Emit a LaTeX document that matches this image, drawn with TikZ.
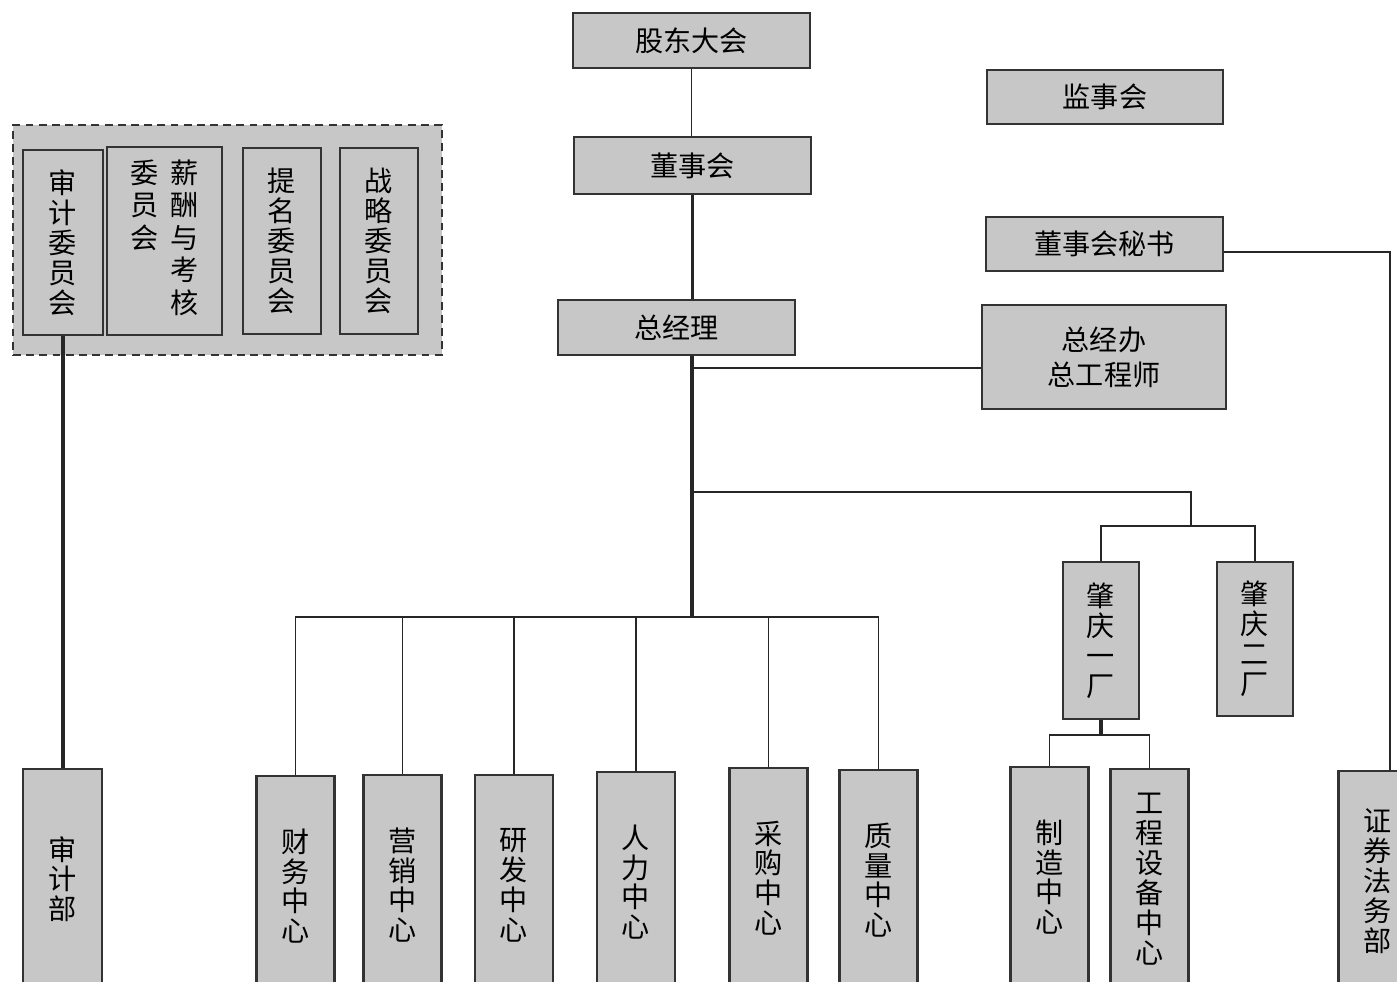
\documentclass[tikz,border=0pt]{standalone}
\usepackage{fontspec}
\newfontfamily\cjk{Noto Sans CJK SC}

\begin{document}
\begin{tikzpicture}[x=0.02cm,y=-0.02cm,
    font=\cjk\fontsize{16}{17}\selectfont,
    caja/.style={draw=black!80, fill=black!22, line width=1.3pt, inner sep=0pt, align=center},
    hcaja/.style={caja, minimum width=4.74cm, minimum height=1.1cm},
    vcaja/.style={caja, anchor=north, minimum width=1.56cm, minimum height=4.4cm},
    linea/.style={line width=1.1pt, black!85},
    gruesa/.style={line width=1.8pt, black!85}]
    \useasboundingbox (0,0) rectangle (1397,982);
    \clip (0,0) rectangle (1397,982);

    % arriba
    \node[hcaja] (gd) at (691.5,40.5) {股东大会};
    \node[hcaja, minimum height=1.14cm] (dsh) at (692.5,165.5) {董事会};
    \node[hcaja, minimum width=4.72cm, minimum height=1.08cm] (jsh) at (1105,97) {监事会};
    \node[hcaja, minimum height=1.08cm] (msh) at (1104.5,244) {董事会秘书};
    \node[hcaja] (zjl) at (676.5,327.5) {总经理};
    \node[hcaja, minimum width=4.88cm, minimum height=2.08cm, font=\cjk\fontsize{16}{20}\selectfont] (zjb) at (1104,357) {总经办\\总工程师};

    % comites
    \node[caja, dash pattern=on 4.5pt off 3pt, minimum width=8.58cm, minimum height=4.6cm] (wyh) at (227.5,240) {};
    \node[caja, minimum width=1.6cm, minimum height=3.7cm] (sjw) at (63,242.5) {审\\计\\委\\员\\会};
    \node[caja, minimum width=2.3cm, minimum height=3.76cm] (xcw) at (164.5,241)
        {\begin{tabular}{@{}c@{\hspace{7pt}}c@{}}委&薪\\员&酬\\会&与\\&考\\&核\end{tabular}};
    \node[caja, minimum width=1.56cm, minimum height=3.72cm] (tmw) at (282,241) {提\\名\\委\\员\\会};
    \node[caja, minimum width=1.56cm, minimum height=3.72cm] (zlw) at (379,241) {战\\略\\委\\员\\会};

    % fabricas
    \node[caja, minimum width=1.52cm, minimum height=3.14cm] (zq1) at (1101,640.5) {肇\\庆\\一\\厂};
    \node[caja, minimum width=1.52cm, minimum height=3.08cm] (zq2) at (1255,639) {肇\\庆\\二\\厂};

    % abajo
    \node[vcaja, minimum width=1.58cm] (sjb) at (62.5,768) {审\\计\\部};
    \node[vcaja] (cw) at (295.5,775) {财\\务\\中\\心};
    \node[vcaja] (yx) at (402.5,774) {营\\销\\中\\心};
    \node[vcaja] (yf) at (514,774) {研\\发\\中\\心};
    \node[vcaja] (rl) at (636,771) {人\\力\\中\\心};
    \node[vcaja] (cg) at (768.5,767) {采\\购\\中\\心};
    \node[vcaja] (zl) at (878.5,769) {质\\量\\中\\心};
    \node[vcaja] (zz) at (1049.5,766) {制\\造\\中\\心};
    \node[vcaja] (gc) at (1149.5,768) {工\\程\\设\\备\\中\\心};
    \node[vcaja] (zqf) at (1377.5,770) {证\\券\\法\\务\\部};

    % lineas
    \coordinate (b1) at (692,617);
    \coordinate (j1) at (692,368);
    \coordinate (j2) at (692,492);
    \coordinate (j3) at (1191,492);
    \coordinate (b2) at (1191,526);
    \coordinate (b3) at (1101,735);
    \coordinate (t1) at (1390,252);

    \draw[line width=0.8pt, black!85] (gd.south) -- (gd.south |- dsh.north);
    \draw[gruesa] (dsh.south) -- (dsh.south |- zjl.north);
    \draw[gruesa] (zjl.south -| b1) -- (b1);
    \draw[linea] (j1) -- (j1 -| zjb.west);
    \draw[linea] (j2) -- (j3) -- (b2);
    \draw[linea] (zq1.north) -- (zq1.north |- b2) -- (zq2.north |- b2) -- (zq2.north);
    \draw[linea] (cw.north) -- (cw.north |- b1) -- (zl.north |- b1) -- (zl.north);
    \foreach \n in {yx,yf,rl,cg}
        \draw[linea] (\n.north) -- (\n.north |- b1);
    \draw[gruesa] (zq1.south) -- (b3);
    \draw[linea] (zz.north) -- (zz.north |- b3) -- (gc.north |- b3) -- (gc.north);
    \draw[gruesa] (sjw.south) -- (sjw.south |- sjb.north);
    \draw[linea] (msh.east |- t1) -- (t1) -- (t1 |- zqf.north);

\end{tikzpicture}
\end{document}
